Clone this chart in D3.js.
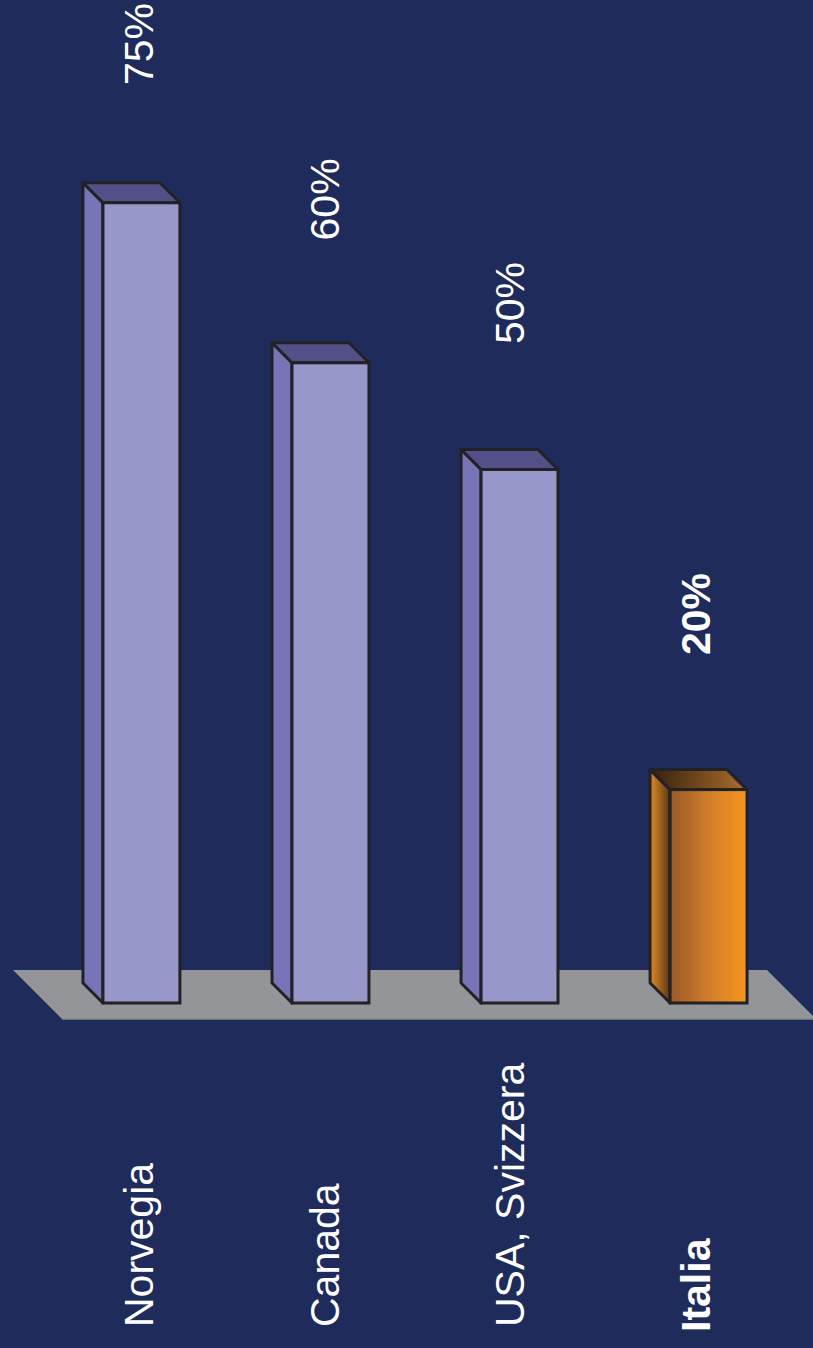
<!DOCTYPE html>
<html>
<head>
<meta charset="utf-8">
<script src="https://cdn.jsdelivr.net/npm/d3@7"></script>
<style>
  html, body { margin: 0; padding: 0; background: #1f2b5b; }
  svg { display: block; }
  text { font-family: "Liberation Sans", Arial, Helvetica, sans-serif; fill: #ffffff; }
</style>
</head>
<body>
<svg id="chart" width="813" height="1348"></svg>
<script>
// ---- data ----
const categories = ["Norvegia", "Canada", "USA, Svizzera", "Italia"];
const values = [75, 60, 50, 20];
const valueLabels = ["75%", "60%", "50%", "20%"];
const highlight = [false, false, false, true];

// ---- layout ----
const W = 813, H = 1348;
const depth = 20;
const svg = d3.select("#chart");

svg.append("rect").attr("width", W).attr("height", H).attr("fill", "#1f2b5b");

const x = d3.scaleBand().domain(categories).range([47, 803]).paddingInner(0.593).paddingOuter(0.296);
const y = d3.scaleLinear().domain([0, 100]).range([1003, -64]);
const labelX = d3.scalePoint().domain(categories).range([153, 710]);
const labelY = d3.scaleLinear().domain([20, 75]).range([655, 85]);

// gradients for highlighted bar
const defs = svg.append("defs");
function grad(id, stops) {
  const g = defs.append("linearGradient").attr("id", id).attr("x1", "0").attr("x2", "1").attr("y1", "0").attr("y2", "0");
  stops.forEach(([o, c]) => g.append("stop").attr("offset", o).attr("stop-color", c));
}
grad("gFront", [[0, "#9a5a28"], [0.55, "#d4802a"], [1, "#f9971d"]]);
grad("gSide", [[0, "#e08a28"], [1, "#5e3812"]]);
grad("gTop", [[0, "#33200e"], [1, "#ad6e2c"]]);

// floor
const floorTop = 970, floorBot = 1019;
svg.append("path")
  .attr("d", d3.line()([[13, floorTop], [767, floorTop], [816, floorBot], [62, floorBot]]) + "Z")
  .attr("fill", "#939598");
svg.append("line").attr("x1", 62).attr("x2", 813).attr("y1", floorBot).attr("y2", floorBot)
  .attr("stroke", "#85878a").attr("stroke-width", 1.5);

const stroke = "#222226", sw = 3;

const bars = svg.selectAll("g.bar").data(categories.map((c, i) => ({ c, v: values[i], hi: highlight[i] })))
  .join("g").attr("class", "bar");

bars.each(function (d) {
  const g = d3.select(this);
  const x0 = x(d.c), x1 = x0 + x.bandwidth();
  const yt = y(d.v), yb = y(0);
  // side face
  g.append("path")
    .attr("d", d3.line()([[x0 - depth, yt - depth], [x0, yt], [x0, yb], [x0 - depth, yb - depth]]) + "Z")
    .attr("fill", d.hi ? "url(#gSide)" : "#7775b8")
    .attr("stroke", stroke).attr("stroke-width", sw).attr("stroke-linejoin", "round");
  // top face
  g.append("path")
    .attr("d", d3.line()([[x0 - depth, yt - depth], [x1 - depth, yt - depth], [x1, yt], [x0, yt]]) + "Z")
    .attr("fill", d.hi ? "url(#gTop)" : "#535089")
    .attr("stroke", stroke).attr("stroke-width", sw).attr("stroke-linejoin", "round");
  // front face
  g.append("rect")
    .attr("x", x0).attr("y", yt).attr("width", x1 - x0).attr("height", yb - yt)
    .attr("fill", d.hi ? "url(#gFront)" : "#9797ca")
    .attr("stroke", stroke).attr("stroke-width", sw);
});

// value labels
svg.selectAll("text.val").data(categories)
  .join("text").attr("class", "val")
  .attr("transform", (c, i) => `translate(${labelX(c)},${labelY(values[i])}) rotate(-90)`)
  .attr("text-anchor", "start")
  .attr("font-size", 41)
  .attr("font-weight", (c, i) => highlight[i] ? "bold" : "normal")
  .text((c, i) => valueLabels[i]);

// category labels
svg.selectAll("text.cat").data(categories)
  .join("text").attr("class", "cat")
  .attr("transform", (c, i) => `translate(${labelX(c)},${highlight[i] ? 1332 : 1327}) rotate(-90)`)
  .attr("text-anchor", "start")
  .attr("font-size", 41)
  .attr("font-weight", (c, i) => highlight[i] ? "bold" : "normal")
  .text(c => c);
</script>
</body>
</html>
